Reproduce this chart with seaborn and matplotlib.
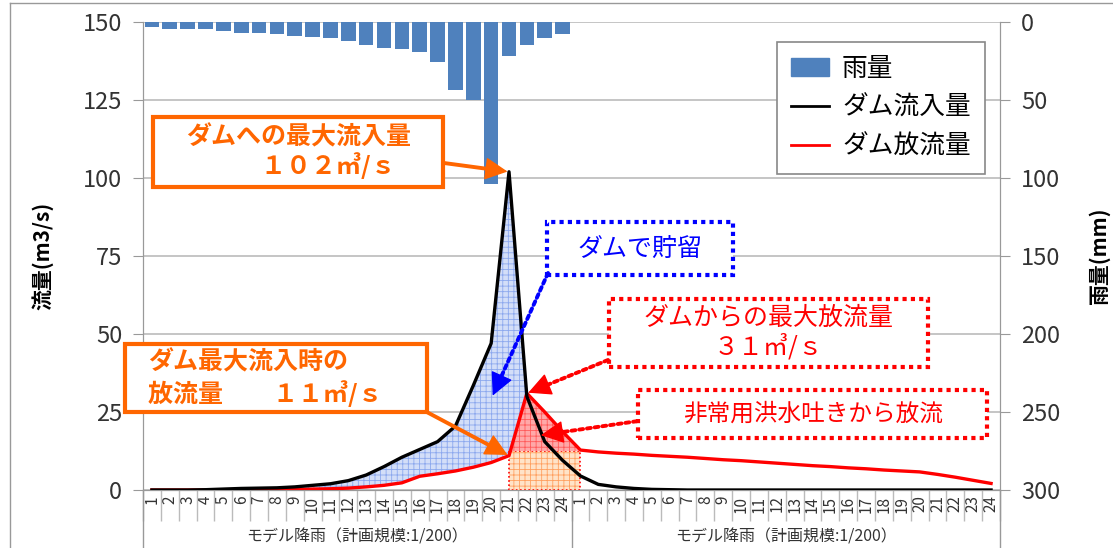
import numpy as np
import pandas as pd
import matplotlib
matplotlib.use('Agg')
import matplotlib.pyplot as plt
import matplotlib.transforms as mtransforms
from matplotlib.patches import Rectangle, Patch
from matplotlib.lines import Line2D
import seaborn as sns

# --- data ---
hours = [str(h) for h in range(1, 25)] * 2
group_label = 'モデル降雨（計画規模:1/200）'
hours_per_group = 24

rain = [3, 4.5, 4.5, 4.5, 5.5, 7, 7, 7.5, 9, 9.5, 10, 12,
        14.5, 16.5, 17.5, 19, 25.5, 43.5, 50, 104, 22, 14.5, 10, 7.5,
        0, 0, 0, 0, 0, 0, 0, 0, 0, 0, 0, 0,
        0, 0, 0, 0, 0, 0, 0, 0, 0, 0, 0, 0]

inflow = [0, 0, 0, 0.1, 0.3, 0.5, 0.6, 0.7, 1.0, 1.5, 2.0, 3.0,
          4.8, 7.5, 10.5, 13.0, 15.5, 20.5, 33.5, 47.0, 102.0, 30.0, 15.5, 9.5,
          4.5, 1.8, 1.0, 0.5, 0.2, 0.1, 0, 0, 0, 0, 0, 0,
          0, 0, 0, 0, 0, 0, 0, 0, 0, 0, 0, 0]

outflow = [0, 0, 0, 0, 0, 0.05, 0.1, 0.15, 0.2, 0.3, 0.4, 0.6,
           1.0, 1.5, 2.3, 4.4, 5.2, 6.1, 7.3, 8.8, 11.0, 31.0, 25.0, 18.7,
           12.8, 12.2, 11.8, 11.5, 11.1, 10.8, 10.5, 10.1, 9.7, 9.4, 9.0, 8.6,
           8.2, 7.8, 7.5, 7.1, 6.8, 6.4, 6.1, 5.8, 5.0, 4.1, 3.1, 2.1]

# emergency spillway release window (hour index) and level
spill_start, spill_end = 20, 24
spill_level = 12.5

df = pd.DataFrame({'idx': np.arange(len(hours)), 'rain': rain,
                   'inflow': inflow, 'outflow': outflow})

BLUE = '#4F81BD'
ORANGE = '#FF6600'
RED = '#FF0000'
DBLUE = '#0000FF'
GRID = '#BBBBBB'
AXC = '#999999'

plt.rcParams['font.family'] = ['Noto Sans CJK JP', 'DejaVu Sans']
plt.rcParams['hatch.linewidth'] = 0.6

fig, ax = plt.subplots(figsize=(11.13, 5.48), dpi=100)
fig.subplots_adjust(left=143/1113, right=1000/1113, top=1-22/548, bottom=1-490/548)
ax2 = ax.twinx()
ax.set_zorder(ax2.get_zorder() + 1)
ax.patch.set_visible(False)

# rain bars hanging from the top (right axis)
sns.barplot(data=df, x='idx', y='rain', ax=ax2, color=BLUE, saturation=1, width=0.82)
ax2.set_ylim(300, 0)
ax2.set_yticks(range(0, 301, 50))
ax2.set_axisbelow(True)
ax2.yaxis.grid(True, color=GRID, lw=1.2)
ax2.xaxis.grid(False)

x = df['idx'].to_numpy()
inf = df['inflow'].to_numpy()
out = df['outflow'].to_numpy()

# storage area (inflow above outflow)
ax.fill_between(x, inf, out, where=inf >= out, interpolate=True,
                facecolor='#D3DEF8', hatch='+++', edgecolor='#8CA8EE', lw=0, zorder=1)
# spillway release
sl = slice(spill_start, spill_end + 1)
ax.fill_between(x[sl], 0, spill_level, facecolor='#FFE3C8', hatch='+++',
                edgecolor='#FFA060', lw=0, zorder=1)
ax.fill_between(x[sl], 0, spill_level, facecolor='none', edgecolor=RED,
                lw=1.2, ls=(0, (1, 1.5)), zorder=1.1)
ax.fill_between(x[sl], out[sl], spill_level, where=out[sl] >= spill_level, interpolate=True,
                facecolor='#FFA8A8', hatch='+++', edgecolor='#FF5A5A', lw=0, zorder=1.2)

sns.lineplot(data=df, x='idx', y='outflow', ax=ax, color=RED, lw=2.4, zorder=3)
sns.lineplot(data=df, x='idx', y='inflow', ax=ax, color='black', lw=2.4, zorder=4)

ax.set_xlim(-0.5, len(hours) - 0.5)
ax.set_ylim(0, 150)
ax.set_yticks(range(0, 151, 25))
ax.set_xticks(x)
ax.set_xticklabels(hours, rotation=90, fontsize=11, color='#333333')
ax.set_xticks(np.arange(-0.5, len(hours), 1), minor=True)
ax.tick_params(axis='x', which='major', length=0, pad=4)
ax.tick_params(axis='x', which='minor', length=22, color=GRID, width=1)
ax.tick_params(axis='y', length=7, color=AXC, labelsize=17, pad=8, labelcolor='#333333')
ax2.tick_params(axis='y', length=7, color=AXC, labelsize=17, pad=8, labelcolor='#333333')
ax.set_xlabel('')
ax2.set_xlabel('')

for a in (ax, ax2):
    a.spines['top'].set_visible(False)
    for s in ('left', 'right', 'bottom'):
        a.spines[s].set_color(AXC)

ax.set_ylabel('流量(m3/s)', fontsize=15, fontweight='bold')
ax.yaxis.set_label_coords(-0.105, 0.5)
ax2.set_ylabel('雨量(mm)', fontsize=15, fontweight='bold')
ax2.yaxis.set_label_coords(1.103, 0.5)

# group separators and labels under the hour ticks
trans = mtransforms.blended_transform_factory(ax.transData, ax.transAxes)
n_groups = len(hours) // hours_per_group
for g in range(n_groups + 1):
    b = g * hours_per_group - 0.5
    ax.plot([b, b], [0, -0.125], transform=trans, color=AXC, lw=1, clip_on=False)
for g in range(n_groups):
    c = g * hours_per_group + (hours_per_group - 1) / 2
    ax.text(c, -0.10, group_label, transform=trans, ha='center', va='center',
            fontsize=11.5, color='#333333')

# legend
handles = [Patch(color=BLUE, label='雨量'),
           Line2D([], [], color='black', lw=2, label='ダム流入量'),
           Line2D([], [], color=RED, lw=2, label='ダム放流量')]
leg = ax.legend(handles=handles, loc='upper right', bbox_to_anchor=(0.9825, 0.957),
                borderaxespad=0, fontsize=18.5, frameon=True, fancybox=False, framealpha=1,
                edgecolor='#888888', handlelength=1.5, handletextpad=0.5,
                labelspacing=0.5, borderpad=0.55)
leg.get_frame().set_linewidth(1.2)
leg.set_zorder(10)


def box(x0, y0, x1, y1, color, ls='-'):
    ax.add_patch(Rectangle((x0, y0), x1 - x0, y1 - y0, transform=ax.transAxes,
                           facecolor='white', edgecolor=color, lw=3, ls=ls,
                           clip_on=False, zorder=6))


HEAD_PX = 18


def arrow(tail, head, color, ls='-'):
    # shaft (possibly dotted) up to the head base, then a solid head
    t = ax.transAxes.transform(tail)
    h = ax.transData.transform(head)
    u = (h - t) / np.hypot(*(h - t))
    base = h - u * HEAD_PX
    ax.annotate('', xy=base, xycoords='figure pixels', xytext=t, textcoords='figure pixels',
                arrowprops=dict(arrowstyle='-', color=color, lw=2.8, ls=ls,
                                shrinkA=0, shrinkB=0), zorder=7)
    ax.annotate('', xy=h - u * 1.5, xycoords='figure pixels', xytext=base - u * 2,
                textcoords='figure pixels',
                arrowprops=dict(arrowstyle='-|>,head_length=0.9,head_width=0.45',
                                color=color, lw=1, mutation_scale=16,
                                shrinkA=0, shrinkB=0), zorder=7)


dot = (0, (1, 1))
peak_i = int(np.argmax(inf))
peak_o = int(np.argmax(out))

# max inflow
box(0.0117, 0.647, 0.350, 0.797, ORANGE)
ax.text(0.181, 0.722, 'ダムへの最大流入量\n　　　１０２㎥/ｓ', transform=ax.transAxes,
        ha='center', va='center', multialignment='left', fontsize=18, fontweight='bold',
        color=ORANGE, linespacing=1.15, zorder=8)
arrow((0.350, 0.699), (peak_i, inf[peak_i]), ORANGE)

# outflow at max inflow
box(-0.021, 0.1667, 0.331, 0.312, ORANGE)
ax.text(0.0058, 0.239, 'ダム最大流入時の\n放流量　　１１㎥/ｓ', transform=ax.transAxes,
        ha='left', va='center', fontsize=18, fontweight='bold', color=ORANGE,
        linespacing=1.25, zorder=8)
arrow((0.331, 0.1667), (peak_i, out[peak_i]), ORANGE)

# storage
box(0.471, 0.459, 0.688, 0.573, DBLUE, dot)
ax.text(0.5795, 0.516, 'ダムで貯留', transform=ax.transAxes, ha='center', va='center',
        fontsize=18, color=DBLUE, zorder=8)
arrow((0.4726, 0.4637), (19.05, 29.8), DBLUE, dot)

# max outflow
box(0.544, 0.263, 0.916, 0.408, RED, dot)
ax.text(0.730, 0.336, 'ダムからの最大放流量\n３１㎥/ｓ', transform=ax.transAxes,
        ha='center', va='center', fontsize=18, color=RED, linespacing=1.15, zorder=8)
arrow((0.5426, 0.2778), (peak_o, out[peak_o]), RED, dot)

# emergency spillway
box(0.578, 0.111, 0.985, 0.214, RED, dot)
ax.text(0.7815, 0.1625, '非常用洪水吐きから放流', transform=ax.transAxes,
        ha='center', va='center', fontsize=17, color=RED, zorder=8)
arrow((0.5764, 0.147), (21.7, 17.5), RED, dot)

# chart-area border (top and left)
fig.add_artist(Line2D([10/1113, 10/1113], [0, 1 - 3/548], transform=fig.transFigure, color=AXC, lw=1))
fig.add_artist(Line2D([10/1113, 1], [1 - 3/548, 1 - 3/548], transform=fig.transFigure, color=AXC, lw=1))

fig.savefig('out.png', dpi=100, facecolor='white')
